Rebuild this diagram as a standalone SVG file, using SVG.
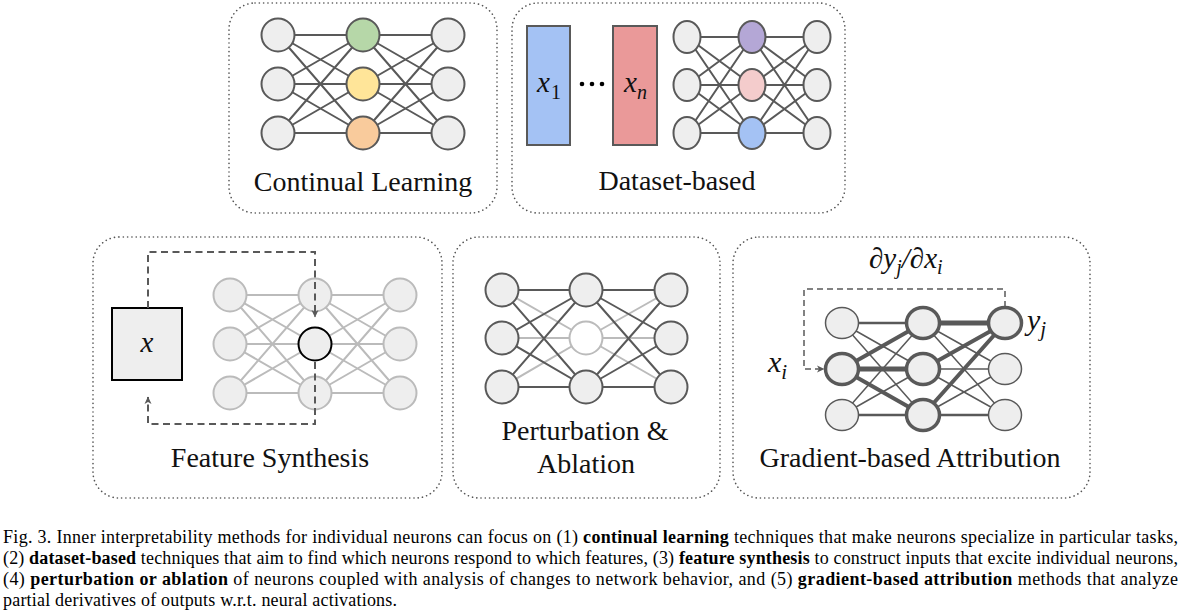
<svg xmlns="http://www.w3.org/2000/svg" width="1184" height="613" viewBox="0 0 1184 613">
<style>
.box{fill:#fff;stroke:#555;stroke-width:1.6;stroke-dasharray:0.1 4.2;stroke-linecap:round}
.lbl{font-size:28px;fill:#111;text-anchor:middle}
.math{font-style:italic;fill:#111}
.sub{fill:#111}
.n{fill:#eeeeee;stroke:#595959;stroke-width:2}
.ng{fill:#eeeeee;stroke:#bbbbbb;stroke-width:2}
.ed{fill:none;stroke:#595959;stroke-width:2}
.el{fill:none;stroke:#bbbbbb;stroke-width:2}
.dash{fill:none;stroke:#595959;stroke-width:2;stroke-dasharray:7 4.5}
.dash2{fill:none;stroke:#595959;stroke-width:1.5;stroke-dasharray:6 4}
.cap{font-size:18px;fill:#000}
.b{font-weight:bold}
</style>
<defs>
<marker id="ah" viewBox="0 0 8 8" refX="7" refY="4" markerWidth="8" markerHeight="8" markerUnits="userSpaceOnUse" orient="auto">
<path d="M0,0.5 L7.5,4 L0,7.5 L2,4 Z" fill="#595959"/>
</marker>
</defs>
<g font-family="'Liberation Serif', 'Times New Roman', Times, 'DejaVu Serif', serif">
<g id="continual-learning">
<rect class="box" x="229" y="3" width="268" height="210" rx="26"/>
<path class="ed" d="M278,35L363,35M278,35L363,84M278,35L363,133M278,84L363,35M278,84L363,84M278,84L363,133M278,133L363,35M278,133L363,84M278,133L363,133M363,35L448,35M363,35L448,84M363,35L448,133M363,84L448,35M363,84L448,84M363,84L448,133M363,133L448,35M363,133L448,84M363,133L448,133"/>
<circle class="n" cx="278" cy="35" r="16.5"/>
<circle class="n" cx="278" cy="84" r="16.5"/>
<circle class="n" cx="278" cy="133" r="16.5"/>
<circle class="n" cx="363" cy="35" r="16.5" style="fill:#b6d7a8"/>
<circle class="n" cx="363" cy="84" r="16.5" style="fill:#ffe599"/>
<circle class="n" cx="363" cy="133" r="16.5" style="fill:#f9cb9c"/>
<circle class="n" cx="448" cy="35" r="16.5"/>
<circle class="n" cx="448" cy="84" r="16.5"/>
<circle class="n" cx="448" cy="133" r="16.5"/>
<text class="lbl" x="363" y="191">Continual Learning</text>
</g>

<g id="dataset-based">
<rect class="box" x="512" y="3" width="333" height="210" rx="26"/>
<rect x="527" y="26" width="43" height="119" fill="#a4c2f4" stroke="#595959" stroke-width="2"/>
<rect x="613" y="26" width="44" height="119" fill="#ea9999" stroke="#595959" stroke-width="2"/>
<text class="math" x="537" y="92" font-size="29">x</text>
<text class="sub" x="551" y="99" font-size="20">1</text>
<text class="math" x="624" y="92" font-size="29">x</text>
<text class="math" x="637" y="99" font-size="20">n</text>
<circle cx="582" cy="84" r="2.3" fill="#000"/>
<circle cx="592" cy="84" r="2.3" fill="#000"/>
<circle cx="602" cy="84" r="2.3" fill="#000"/>
<path class="ed" d="M687,37L752,37M687,37L752,85M687,37L752,133M687,85L752,37M687,85L752,85M687,85L752,133M687,133L752,37M687,133L752,85M687,133L752,133M752,37L817,37M752,37L817,85M752,37L817,133M752,85L817,37M752,85L817,85M752,85L817,133M752,133L817,37M752,133L817,85M752,133L817,133"/>
<ellipse class="n" cx="687" cy="37" rx="13.5" ry="16"/>
<ellipse class="n" cx="687" cy="85" rx="13.5" ry="16"/>
<ellipse class="n" cx="687" cy="133" rx="13.5" ry="16"/>
<ellipse class="n" cx="752" cy="37" rx="13.5" ry="16" style="fill:#b4a7d6"/>
<ellipse class="n" cx="752" cy="85" rx="13.5" ry="16" style="fill:#f4cccc"/>
<ellipse class="n" cx="752" cy="133" rx="13.5" ry="16" style="fill:#a4c2f4"/>
<ellipse class="n" cx="817" cy="37" rx="13.5" ry="16"/>
<ellipse class="n" cx="817" cy="85" rx="13.5" ry="16"/>
<ellipse class="n" cx="817" cy="133" rx="13.5" ry="16"/>
<text class="lbl" x="677" y="190">Dataset-based</text>
</g>

<g id="feature-synthesis">
<rect class="box" x="93" y="237" width="349" height="261" rx="26"/>
<rect x="112" y="308" width="70" height="72" fill="#eeeeee" stroke="#000" stroke-width="2"/>
<text class="math" x="147" y="352" font-size="29" text-anchor="middle">x</text>
<path class="el" d="M230,295L315,295M230,295L315,344M230,295L315,393M230,344L315,295M230,344L315,344M230,344L315,393M230,393L315,295M230,393L315,344M230,393L315,393M315,295L400,295M315,295L400,344M315,295L400,393M315,344L400,295M315,344L400,344M315,344L400,393M315,393L400,295M315,393L400,344M315,393L400,393"/>
<circle class="ng" cx="230" cy="295" r="16.5"/>
<circle class="ng" cx="230" cy="344" r="16.5"/>
<circle class="ng" cx="230" cy="393" r="16.5"/>
<circle class="ng" cx="315" cy="295" r="16.5"/>
<circle class="ng" cx="315" cy="344" r="16.5" style="stroke:#000"/>
<circle class="ng" cx="315" cy="393" r="16.5"/>
<circle class="ng" cx="400" cy="295" r="16.5"/>
<circle class="ng" cx="400" cy="344" r="16.5"/>
<circle class="ng" cx="400" cy="393" r="16.5"/>
<text class="lbl" x="270" y="467">Feature Synthesis</text>
</g>

<g id="perturbation-ablation">
<rect class="box" x="453" y="237" width="267" height="261" rx="26"/>
<path class="el" d="M502,290L586,338M502,338L586,338M502,387L586,338M586,338L671,290M586,338L671,338M586,338L671,387"/>
<path class="ed" d="M502,290L586,290M502,290L586,387M502,338L586,290M502,338L586,387M502,387L586,290M502,387L586,387M586,290L671,290M586,290L671,338M586,290L671,387M586,387L671,290M586,387L671,338M586,387L671,387"/>
<circle class="n" cx="502" cy="290" r="16.5"/>
<circle class="n" cx="502" cy="338" r="16.5"/>
<circle class="n" cx="502" cy="387" r="16.5"/>
<circle class="n" cx="586" cy="290" r="16.5"/>
<circle class="n" cx="586" cy="338" r="16.5" style="fill:#fff;stroke:#bbbbbb"/>
<circle class="n" cx="586" cy="387" r="16.5"/>
<circle class="n" cx="671" cy="290" r="16.5"/>
<circle class="n" cx="671" cy="338" r="16.5"/>
<circle class="n" cx="671" cy="387" r="16.5"/>
<text class="lbl" x="585" y="440">Perturbation &amp;</text>
<text class="lbl" x="586" y="473">Ablation</text>
</g>

<g id="gradient-attribution">
<rect class="box" x="733" y="237" width="357" height="261" rx="26"/>
<path class="ed" style="stroke-width:1.5" d="M842,323L923,369M842,323L923,415M842,415L923,323M842,415L923,369M923,323L1005,369M923,323L1005,415M923,369L1005,369M923,369L1005,415M923,415L1005,369"/>
<path class="ed" style="stroke-width:2.5" d="M842,323L923,323M842,415L923,415M923,415L1005,415"/>
<path class="ed" style="stroke-width:4" d="M842,369L923,323M842,369L923,415M923,369L1005,323M923,415L1005,323"/>
<path class="ed" style="stroke-width:5" d="M842,369L923,369M923,323L1005,323"/>
<ellipse class="n" cx="842" cy="323" rx="16.5" ry="15.5" style="stroke-width:1.5"/>
<ellipse class="n" cx="842" cy="369" rx="16.5" ry="15.5" style="stroke-width:3.5"/>
<ellipse class="n" cx="842" cy="415" rx="16.5" ry="15.5" style="stroke-width:1.5"/>
<ellipse class="n" cx="923" cy="323" rx="16.5" ry="15.5" style="stroke-width:3.5"/>
<ellipse class="n" cx="923" cy="369" rx="16.5" ry="15.5" style="stroke-width:3.5"/>
<ellipse class="n" cx="923" cy="415" rx="16.5" ry="15.5" style="stroke-width:3.5"/>
<ellipse class="n" cx="1005" cy="323" rx="16.5" ry="15.5" style="stroke-width:3.5"/>
<ellipse class="n" cx="1005" cy="369" rx="16.5" ry="15.5" style="stroke-width:1.5"/>
<ellipse class="n" cx="1005" cy="415" rx="16.5" ry="15.5" style="stroke-width:1.5"/>
<text class="math" x="869" y="268" font-size="29">∂y<tspan font-size="20" dy="6">j</tspan><tspan dy="-6">/∂x</tspan><tspan font-size="20" dy="6">i</tspan></text>
<text class="math" x="1027" y="330" font-size="30">y<tspan font-size="21" dy="6">j</tspan></text>
<text class="math" x="768" y="372" font-size="30">x<tspan font-size="21" dy="7">i</tspan></text>
<text class="lbl" x="910" y="467">Gradient-based Attribution</text>
</g>

<g id="connectors">
<path class="dash" d="M148,308V252H315V317" marker-end="url(#ah)"/>
<path class="dash" d="M315,362V424H148V397" marker-end="url(#ah)"/>
<path class="dash2" d="M1005,307V289H804V369H824" marker-end="url(#ah)"/>
</g>

<g id="caption">
<text class="cap" x="3" y="543" textLength="1175" lengthAdjust="spacing">Fig. 3.  Inner interpretability methods for individual neurons can focus on (1) <tspan class="b">continual learning</tspan> techniques that make neurons specialize in particular tasks,</text>
<text class="cap" x="3" y="564" textLength="1175" lengthAdjust="spacing">(2) <tspan class="b">dataset-based</tspan> techniques that aim to find which neurons respond to which features, (3) <tspan class="b">feature synthesis</tspan> to construct inputs that excite individual neurons,</text>
<text class="cap" x="3" y="585" textLength="1175" lengthAdjust="spacing">(4) <tspan class="b">perturbation or ablation</tspan> of neurons coupled with analysis of changes to network behavior, and (5) <tspan class="b">gradient-based attribution</tspan> methods that analyze</text>
<text class="cap" x="3" y="606" textLength="394" lengthAdjust="spacing">partial derivatives of outputs w.r.t. neural activations.</text>
</g>
</g>
</svg>
